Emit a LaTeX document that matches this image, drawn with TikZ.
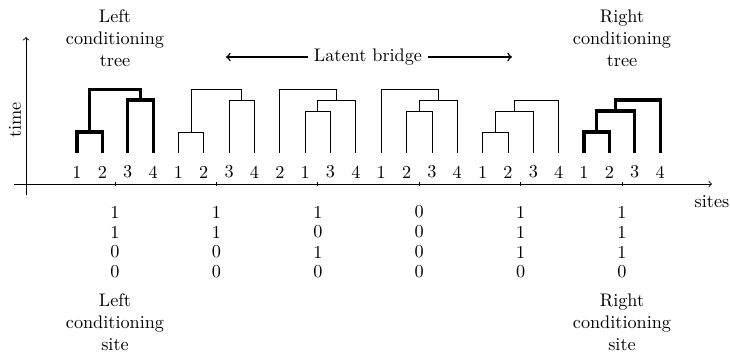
\documentclass[tikz,border=0pt]{standalone}
\usepackage{tikz}
\usetikzlibrary{
  arrows.meta,
  positioning,  % Function "of"
  calc,         % Calculations $...$
}
\def\myleafdist{25.35}
\def\mytreedist{101.4}
% Draw one clade: [style]{left child}{right child}{level}{name}
\newcommand{\clade}[5][]{%
  \draw[#1] (#2) -- (#2 |- #4) -- (#3 |- #4) -- (#3);
  \coordinate (#5) at ($(#2 |- #4)!0.5!(#3 |- #4)$);
}
\tikzset{
  >=to,
  x=0.0193cm,
  y=0.0193cm,
  bold tree/.style={
    line width=1.7pt
  },
  thin tree/.style={
    line width=0.45pt
  },
  my axis/.style={
    line width=0.45pt,
    ->
  },
  title/.style={
    align=center
  },
  digit/.style={
    inner sep=0pt
  }
}
\begin{document}
\begin{tikzpicture}
\useasboundingbox (0,0) rectangle (730,354);
% axes
\coordinate (xstart) at (14,170);
\coordinate (xend) at (712,170);
\coordinate (ystart) at (26,159);
\coordinate (yend) at (26,317);
\draw[my axis] (xstart) -- (xend);
\draw[my axis] (ystart) -- (yend);
\node[rotate=90] (time) at (15,234) {time};
\node (sites) at (712,152) {sites};
% heights of the merges
\coordinate (lvA) at (0,222);
\coordinate (lvB) at (0,243);
\coordinate (lvC) at (0,254);
\coordinate (lvD) at (0,264.5);
% leaves
\foreach \lab [count=\i, evaluate=\i as \x using 77+\myleafdist*(\i-1)]
  in {1,2,3,4,1,2,3,4,2,1,3,4,1,2,3,4,1,2,3,4,1,2,3,4} {
  \node (l\i) at (\x,182) {\lab};
  \coordinate (t\i) at (\x,201);
}
% sites: ticks and data
\foreach \col [count=\k, evaluate=\k as \x using 115+\mytreedist*(\k-1)]
  in {{1,1,0,0},{1,1,0,0},{1,0,1,0},{0,0,0,0},{1,1,1,0},{1,1,1,0}} {
  \draw[thin tree] (\x,168) coordinate (tk\k) -- (\x,172);
  \foreach \d [count=\r, evaluate=\r as \y using 162-20*\r] in \col
    \node (d\k-\r) at (\x,\y) {\d};
}
% left conditioning tree
\clade[bold tree]{t1}{t2}{lvA}{a1}
\clade[bold tree]{t3}{t4}{lvC}{b1}
\clade[bold tree]{a1}{b1}{lvD}{r1}
% latent bridge
\clade[thin tree]{t5}{t6}{lvA}{a2}
\clade[thin tree]{t7}{t8}{lvC}{b2}
\clade[thin tree]{a2}{b2}{lvD}{r2}
\clade[thin tree]{t10}{t11}{lvB}{a3}
\clade[thin tree]{a3}{t12}{lvC}{b3}
\clade[thin tree]{t9}{b3}{lvD}{r3}
\clade[thin tree]{t14}{t15}{lvB}{a4}
\clade[thin tree]{a4}{t16}{lvC}{b4}
\clade[thin tree]{t13}{b4}{lvD}{r4}
\clade[thin tree]{t17}{t18}{lvA}{a5}
\clade[thin tree]{a5}{t19}{lvB}{b5}
\clade[thin tree]{b5}{t20}{lvC}{r5}
% right conditioning tree
\clade[bold tree]{t21}{t22}{lvA}{a6}
\clade[bold tree]{a6}{t23}{lvB}{b6}
\clade[bold tree]{b6}{t24}{lvC}{r6}
% labels
\node[title] (lefttree) at (115,316) {Left\\conditioning\\tree};
\node[title] (righttree) at (622,316) {Right\\conditioning\\tree};
\node[title] (leftsite) at (115,32) {Left\\conditioning\\site};
\node[title] (rightsite) at (622,32) {Right\\conditioning\\site};
\node (bridge) at (368,297) {Latent bridge};
\coordinate (bl) at (226,297);
\coordinate (br) at (512,297);
\draw[thick,->] (bridge.west) -- (bl);
\draw[thick,->] (bridge.east) -- (br);
\end{tikzpicture}
\end{document}
